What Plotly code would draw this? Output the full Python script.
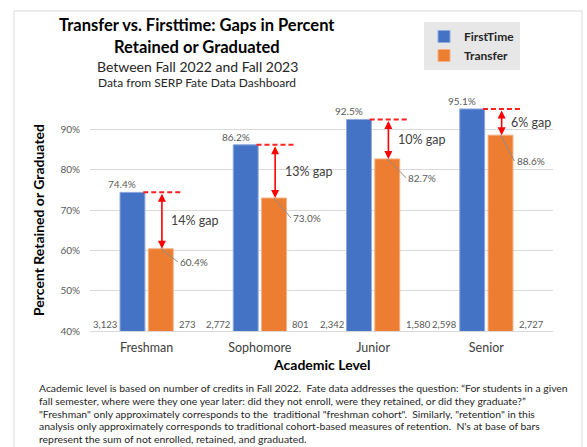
import plotly.graph_objects as go

# ---------------- data ----------------
levels = ["Freshman", "Sophomore", "Junior", "Senior"]
firsttime_pct = [74.4, 86.2, 92.5, 95.1]
transfer_pct = [60.4, 73.0, 82.7, 88.6]
firsttime_n = ["3,123", "2,772", "2,342", "2,598"]
transfer_n = ["273", "801", "1,580", "2,727"]
gap_labels = ["14% gap", "13% gap", "10% gap", "6% gap"]
y_ticks = [40, 50, 60, 70, 80, 90]

title_lines = ["Transfer vs. Firsttime: Gaps in Percent", "Retained or Graduated"]
subtitle = "Between Fall 2022 and Fall 2023"
source = "Data from SERP Fate Data Dashboard"
footnote_lines = [
    "Academic level is based on number of credits in Fall 2022.  Fate data addresses the question: \u201cFor students in a given",
    "fall semester, where were they one year later: did they not enroll, were they retained, or did they graduate?\u201d",
    "\"Freshman\" only approximately corresponds to the  traditional \"freshman cohort\".  Similarly, \"retention\" in this",
    "analysis only approximately corresponds to traditional cohort-based measures of retention.  N's at base of bars",
    "represent the sum of not enrolled, retained, and graduated.",
]

# ---------------- layout geometry ----------------
W, H = 587, 447
L, R, T, B = 90, 34, 100, 116
PW, PH = W - L - R, H - T - B
Y0 = 40
Y1 = 40 + PH / 4.03

def px_x(px):
    return (px - L) / PW

def px_y(py):
    return (H - B - py) / PH

FONT = "Lato, Carlito, Calibri, sans-serif"
BLUE = "#4472C4"
ORANGE = "#ED7D31"
GRAY = "#595959"
DARK = "#262626"

fig = go.Figure()
fig.add_trace(go.Bar(x=levels, y=firsttime_pct, name="FirstTime", marker=dict(color=BLUE, line=dict(color="#8faadc", width=1)), legendgroup="a"))
fig.add_trace(go.Bar(x=levels, y=transfer_pct, name="Transfer", marker=dict(color=ORANGE, line=dict(color="#f4b183", width=1)), legendgroup="b"))

ann = []
shapes = []
half = 0.125
bw = 0.11
trans_off = [(17, 13), (17, 20), (19, 19), (14, 26)]
for i in range(len(levels)):
    ft, tr = firsttime_pct[i], transfer_pct[i]
    # firsttime value label
    ann.append(dict(x=i - half, y=ft, xref="x", yref="y", text=f"{ft:.1f}%", showarrow=False,
                    xanchor="center", yanchor="bottom", xshift=-10, yshift=0, font=dict(size=10, color=GRAY)))
    # transfer value label with leader
    ax, ay = trans_off[i]
    ann.append(dict(x=i + half, y=tr, xref="x", yref="y", text=f"{tr:.1f}%", showarrow=True,
                    arrowhead=0, arrowwidth=1, arrowcolor="#8c8c8c", ax=ax, ay=ay, xanchor="left",
                    standoff=0, font=dict(size=10, color=GRAY)))
    # N labels
    ann.append(dict(x=i - half - bw, y=Y0, xref="x", yref="y", text=firsttime_n[i], showarrow=False,
                    xanchor="right", yanchor="bottom", xshift=-1, yshift=-1, font=dict(size=9.5, color=GRAY)))
    ann.append(dict(x=i + half + bw, y=Y0, xref="x", yref="y", text=transfer_n[i], showarrow=False,
                    xanchor="left", yanchor="bottom", xshift=4, yshift=-1, font=dict(size=9.5, color=GRAY)))
    # dashed reference line
    shapes.append(dict(type="line", xref="x", yref="y", x0=i - 0.03, x1=i + 0.31, y0=ft, y1=ft,
                       line=dict(color="#ff2020", width=2, dash="5px,3px")))
    # double arrow
    ann.append(dict(x=i + half + 0.01, y=tr, ax=i + half + 0.01, ay=ft, xref="x", yref="y", axref="x", ayref="y",
                    text="", showarrow=True, arrowhead=2, arrowsize=1, arrowwidth=1.6, arrowcolor="#ff0000",
                    arrowside="end+start", startarrowhead=2, startarrowsize=1, standoff=0, startstandoff=0))
    # gap label
    ann.append(dict(x=i + 0.2, y=(ft + tr) / 2, xref="x", yref="y", text=gap_labels[i], showarrow=False,
                    xanchor="left", yanchor="middle", font=dict(size=12.5, color="#404040")))

def paper_text(px, py, text, size, color, anchor="center", angle=0):
    return dict(x=px_x(px), y=px_y(py), xref="paper", yref="paper", text=text, showarrow=False,
                xanchor=anchor, yanchor="middle", textangle=angle, font=dict(size=size, color=color))

# titles
ann.append(paper_text(197, 25, f"<b>{title_lines[0]}</b>", 16.5, "#000000"))
ann.append(paper_text(197, 47, f"<b>{title_lines[1]}</b>", 16.5, "#000000"))
ann.append(paper_text(197, 66, subtitle, 14, DARK))
ann.append(paper_text(197, 83, source, 12, DARK))
# axis titles
ann.append(paper_text(38, 220, "<b>Percent Retained or Graduated</b>", 14, "#000000", angle=-90))
ann.append(paper_text(322, 364, "<b>Academic Level</b>", 14, "#000000"))
# footnote
for k, line in enumerate(footnote_lines):
    ann.append(paper_text(37, 388 + 12.8 * k, line, 10.4, DARK, anchor="left"))

# border
shapes.append(dict(type="rect", xref="paper", yref="paper", x0=px_x(14), x1=px_x(582), y0=px_y(470), y1=px_y(11),
                   line=dict(color="#d9d9d9", width=1), layer="below"))

fig.update_layout(
    width=W, height=H,
    margin=dict(l=L, r=R, t=T, b=B, autoexpand=False),
    paper_bgcolor="white", plot_bgcolor="white",
    font=dict(family=FONT, color=DARK),
    barmode="group", bargap=0.5, bargroupgap=0.12,
    showlegend=True,
    legend=dict(x=px_x(424), y=px_y(22), xanchor="left", yanchor="top", bgcolor="#e7e7e7",
                font=dict(size=12, color=DARK, family=FONT, weight="bold"), tracegroupgap=6, traceorder="normal",
                itemwidth=30),
    annotations=ann, shapes=shapes,
    xaxis=dict(tickfont=dict(size=12.5, color="#404040"), showline=True, linecolor="#d9d9d9", linewidth=1,
               ticks="", showgrid=False, ticklabelstandoff=5),
    yaxis=dict(range=[Y0, Y1], tickvals=y_ticks, ticktext=[f"{v}%" for v in y_ticks],
               tickfont=dict(size=10, color=GRAY), gridcolor="#d9d9d9", gridwidth=1, zeroline=False,
               showline=False, ticklabelstandoff=9),
)

fig.write_html("out.html", config={"displayModeBar": False},
               post_script="document.body.style.margin='0';document.body.style.overflow='hidden';")
